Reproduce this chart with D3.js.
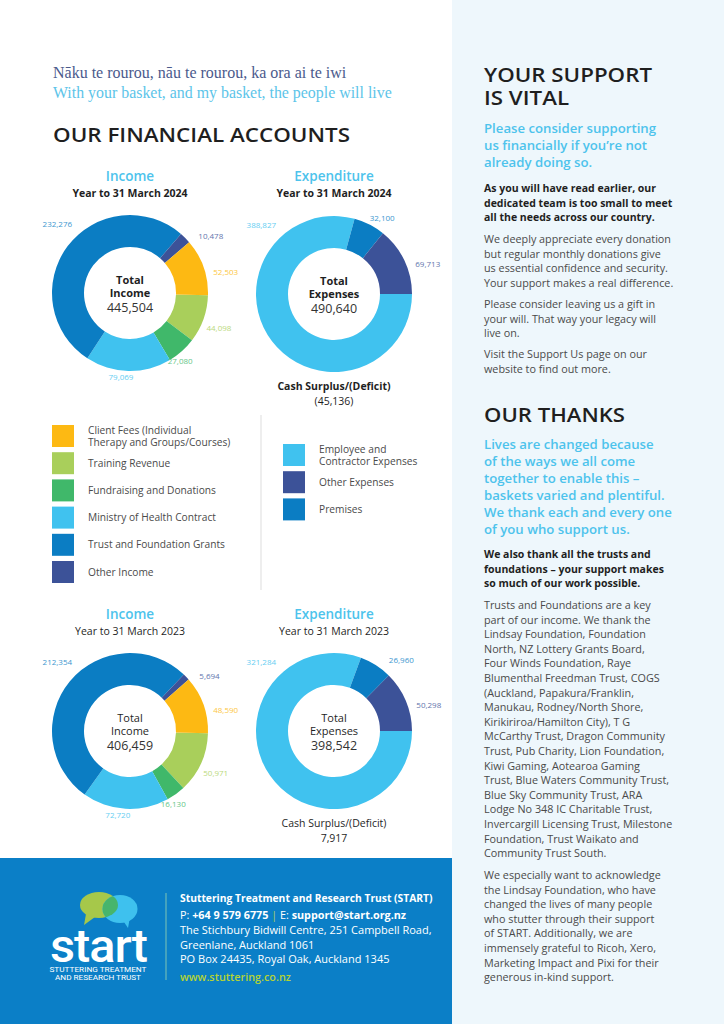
<!DOCTYPE html>
<html>
<head>
<meta charset="utf-8">
<script src="https://cdn.jsdelivr.net/npm/d3@7"></script>
<style>
  body { margin: 0; background: #fff; }
  svg { display: block; font-family: "Open Sans", sans-serif; }
</style>
</head>
<body>
<svg id="page"></svg>
<script>
// ---- data ----
const incomeCategories = ["Client Fees (Individual\nTherapy and Groups/Courses)", "Training Revenue",
  "Fundraising and Donations", "Ministry of Health Contract", "Trust and Foundation Grants", "Other Income"];
const income2024 = [52503, 44098, 27080, 79069, 232276, 10478];
const income2023 = [48590, 50971, 16130, 72720, 212354, 5694];

const expenseCategories = ["Employee and\nContractor Expenses", "Other Expenses", "Premises"];
const expense2024 = [388827, 69713, 32100];
const expense2023 = [321284, 50298, 26960];

// clockwise slice order starting at 3 o'clock
const incomeOrder = [1, 2, 3, 4, 5, 0];
const expenseOrder = [0, 2, 1];

const incomeColors = ["#fdb913", "#a9cf5b", "#40b86a", "#40c2ef", "#0b7dc3", "#3c5298"];
const expenseColors = ["#40c2ef", "#3c5298", "#0b7dc3"];

const W = 724, H = 1024;
const blue = "#4dc3ec", dark = "#1f1f1f", grey = "#4a4a4a";
const fmt = d3.format(",");
const fmtSigned = v => v < 0 ? "(" + fmt(-v) + ")" : fmt(v);

const svg = d3.select("#page").attr("width", W).attr("height", H);

// backgrounds
svg.append("rect").attr("width", W).attr("height", H).attr("fill", "#fff");
svg.append("rect").attr("x", 452).attr("width", W - 452).attr("height", H).attr("fill", "#eef7fc");
svg.append("rect").attr("y", 858).attr("width", 452).attr("height", H - 858).attr("fill", "#0b7fc7");

function lines(g, x, y, lh, arr, opts = {}) {
  const t = g.append("text")
    .attr("x", x).attr("y", y)
    .attr("font-size", opts.size || 10.8)
    .attr("font-weight", opts.weight || 400)
    .attr("fill", opts.fill || grey)
    .attr("text-anchor", opts.anchor || "start")
    .attr("font-family", opts.family || null);
  arr.forEach((s, i) => {
    const ts = t.append("tspan").attr("x", x).attr("y", y + i * lh).text(s);
    if (opts.widths) ts.attr("textLength", opts.widths[i]).attr("lengthAdjust", "spacingAndGlyphs");
  });
  return t;
}

// ---- header ----
lines(svg, 53, 78, 20, ["Nāku te rourou, nāu te rourou, ka ora ai te iwi"],
  { size: 16, fill: "#4b5a8c", family: "Liberation Serif, serif" });
lines(svg, 53, 98, 20, ["With your basket, and my basket, the people will live"],
  { size: 15.9, fill: "#5cc4e9", family: "Liberation Serif, serif" });
lines(svg, 53, 142, 20, ["OUR FINANCIAL ACCOUNTS"], { size: 19.5, weight: 600, fill: dark, widths: [297] });

// ---- donuts ----
const R = 78, r0 = 46;
const arc = d3.arc().innerRadius(r0).outerRadius(R);

function donut(cx, cy, values, cats, colors, order, o) {
  const g = svg.append("g").attr("transform", `translate(${cx},${cy})`);
  const rows = order.map(i => ({ cat: cats[i], value: values[i], color: colors[i] }));
  const start = Math.PI / 2 + (o.rot || 0);
  const pie = d3.pie().value(d => d.value).sort(null).startAngle(start).endAngle(start + 2 * Math.PI);
  const arcs = pie(rows);

  g.selectAll("path.slice").data(arcs).join("path")
    .attr("class", "slice")
    .attr("d", arc)
    .attr("fill", d => d.data.color);

  // value labels just outside the ring
  g.selectAll("text.val").data(arcs).join("text")
    .attr("class", "val")
    .each(function (d) {
      const frac = (d.endAngle - d.startAngle) / (2 * Math.PI);
      const a = frac > 0.5 ? -40 * Math.PI / 180 : (d.startAngle + d.endAngle) / 2 + 5 * Math.PI / 180;
      const s = Math.sin(a), c = -Math.cos(a);
      const rr = R + 6 + 8 * Math.max(0, -c);
      d3.select(this)
        .attr("x", s * rr).attr("y", c * rr)
        .attr("text-anchor", Math.abs(s) < 0.6 ? "middle" : (s > 0 ? "start" : "end"))
        .attr("dominant-baseline", "central");
    })
    .attr("font-size", 8)
    .attr("fill", d => d3.interpolateRgb(d.data.color, "#ffffff")(0.2))
    .text(d => fmt(d.data.value));

  // titles
  g.append("text").attr("y", o.titleY - cy).attr("text-anchor", "middle")
    .attr("font-size", 13.5).attr("font-weight", 600).attr("fill", blue).text(o.title);
  g.append("text").attr("y", o.titleY - cy + 16).attr("text-anchor", "middle")
    .attr("font-size", 10.5).attr("font-weight", o.bold ? 700 : 400).attr("fill", dark).text(o.sub);

  // centre
  const total = d3.sum(values);
  g.append("text").attr("y", -14).attr("text-anchor", "middle").attr("dominant-baseline", "central")
    .attr("font-size", 11).attr("font-weight", o.bold ? 700 : 400).attr("fill", dark).text("Total");
  g.append("text").attr("y", -1).attr("text-anchor", "middle").attr("dominant-baseline", "central")
    .attr("font-size", 11).attr("font-weight", o.bold ? 700 : 400).attr("fill", dark).text(o.centre);
  g.append("text").attr("y", 14).attr("text-anchor", "middle").attr("dominant-baseline", "central")
    .attr("font-size", 12.5).attr("fill", "#333").text(fmt(total));

  if (o.surplus !== undefined) {
    g.append("text").attr("y", R + 14).attr("text-anchor", "middle").attr("dominant-baseline", "central")
      .attr("font-size", 10.5).attr("font-weight", o.bold ? 700 : 400).attr("fill", dark)
      .text("Cash Surplus/(Deficit)");
    g.append("text").attr("y", R + 29).attr("text-anchor", "middle").attr("dominant-baseline", "central")
      .attr("font-size", 10.5).attr("fill", dark).text(fmtSigned(o.surplus));
  }
}

donut(130, 293, income2024, incomeCategories, incomeColors, incomeOrder,
  { title: "Income", sub: "Year to 31 March 2024", titleY: 181, bold: true, centre: "Income", rot: 0.03 });
donut(334, 294, expense2024, expenseCategories, expenseColors, expenseOrder,
  { title: "Expenditure", sub: "Year to 31 March 2024", titleY: 181, bold: true, centre: "Expenses",
    surplus: d3.sum(income2024) - d3.sum(expense2024) });
donut(130, 731, income2023, incomeCategories, incomeColors, incomeOrder,
  { title: "Income", sub: "Year to 31 March 2023", titleY: 619, bold: false, centre: "Income", rot: 0.03 });
donut(334, 731, expense2023, expenseCategories, expenseColors, expenseOrder,
  { title: "Expenditure", sub: "Year to 31 March 2023", titleY: 619, bold: false, centre: "Expenses",
    surplus: d3.sum(income2023) - d3.sum(expense2023) });

// ---- legends ----
function legend(x, y, cats, colors) {
  const step = 27.2, sw = 22;
  const g = svg.append("g").attr("transform", `translate(${x},${y})`);
  const row = g.selectAll("g").data(cats).join("g")
    .attr("transform", (d, i) => `translate(0,${i * step})`);
  row.append("rect").attr("width", sw).attr("height", sw).attr("fill", (d, i) => colors[i]);
  row.append("text").attr("x", 36).attr("font-size", 10.2).attr("fill", grey)
    .each(function (d) {
      const parts = d.split("\n");
      const t = d3.select(this);
      parts.forEach((p, k) => {
        t.append("tspan").attr("x", 36)
          .attr("y", sw / 2 + 3.5 + (k - (parts.length - 1) / 2) * 12)
          .text(p);
      });
    });
}
legend(52, 425, incomeCategories, incomeColors);
legend(283, 444, expenseCategories, expenseColors);
svg.append("line").attr("x1", 261).attr("x2", 261).attr("y1", 415).attr("y2", 590)
  .attr("stroke", "#dddddd").attr("stroke-width", 1);

// ---- right column ----
const rx = 484;
lines(svg, rx, 82, 23, ["YOUR SUPPORT", "IS VITAL"], { size: 19.5, weight: 600, fill: dark, widths: [168, 85] });
lines(svg, rx, 133, 17, ["Please consider supporting", "us financially if you’re not", "already doing so."],
  { size: 13.2, weight: 600, fill: blue });
lines(svg, rx, 192, 14.5, ["As you will have read earlier, our", "dedicated team is too small to meet",
  "all the needs across our country."], { size: 10.5, weight: 700, fill: dark });
lines(svg, rx, 243, 14.5, ["We deeply appreciate every donation", "but regular monthly donations give",
  "us essential confidence and security.", "Your support makes a real difference."]);
lines(svg, rx, 308, 14.5, ["Please consider leaving us a gift in", "your will. That way your legacy will",
  "live on."]);
lines(svg, rx, 358, 14.5, ["Visit the Support Us page on our", "website to find out more."]);

lines(svg, rx, 422, 23, ["OUR THANKS"], { size: 19.5, weight: 600, fill: dark, widths: [141] });
lines(svg, rx, 449, 16.9, ["Lives are changed because", "of the ways we all come", "together to enable this –",
  "baskets varied and plentiful.", "We thank each and every one", "of you who support us."],
  { size: 13.2, weight: 600, fill: blue });
lines(svg, rx, 558, 14.5, ["We also thank all the trusts and", "foundations – your support makes",
  "so much of our work possible."], { size: 10.5, weight: 700, fill: dark });
lines(svg, rx, 609, 14.6, ["Trusts and Foundations are a key", "part of our income. We thank the",
  "Lindsay Foundation, Foundation", "North, NZ Lottery Grants Board,", "Four Winds Foundation, Raye",
  "Blumenthal Freedman Trust, COGS", "(Auckland, Papakura/Franklin,", "Manukau, Rodney/North Shore,",
  "Kirikiriroa/Hamilton City), T G", "McCarthy Trust, Dragon Community", "Trust, Pub Charity, Lion Foundation,",
  "Kiwi Gaming, Aotearoa Gaming", "Trust, Blue Waters Community Trust,", "Blue Sky Community Trust, ARA",
  "Lodge No 348 IC Charitable Trust,", "Invercargill Licensing Trust, Milestone",
  "Foundation, Trust Waikato and", "Community Trust South."]);
lines(svg, rx, 879, 14.6, ["We especially want to acknowledge", "the Lindsay Foundation, who have",
  "changed the lives of many people", "who stutter through their support", "of START. Additionally, we are",
  "immensely grateful to Ricoh, Xero,", "Marketing Impact and Pixi for their", "generous in-kind support."]);

// ---- footer ----
const logo = svg.append("g");
const defs = svg.append("defs");
defs.append("clipPath").attr("id", "blueBubble")
  .append("ellipse").attr("cx", 120).attr("cy", 909).attr("rx", 17.5).attr("ry", 14);
logo.append("path").attr("d", "M86,914 L84,925 L95,917 Z").attr("fill", "#a6c84a");
logo.append("path").attr("d", "M122,919 L128,928 L130,917 Z").attr("fill", "#3ec1ee");
logo.append("ellipse").attr("cx", 99).attr("cy", 905).attr("rx", 19).attr("ry", 13).attr("fill", "#a6c84a");
logo.append("ellipse").attr("cx", 120).attr("cy", 909).attr("rx", 17.5).attr("ry", 14).attr("fill", "#3ec1ee");
logo.append("ellipse").attr("cx", 99).attr("cy", 905).attr("rx", 19).attr("ry", 13)
  .attr("fill", "#47b56c").attr("clip-path", "url(#blueBubble)");
logo.append("text").attr("x", 50).attr("y", 962).attr("font-size", 47).attr("font-weight", 500)
  .attr("fill", "#fff").attr("textLength", 97).attr("lengthAdjust", "spacingAndGlyphs")
  .attr("font-family", "Roboto, sans-serif").attr("letter-spacing", -1).text("start");
logo.append("text").attr("x", 98).attr("y", 972).attr("text-anchor", "middle").attr("font-size", 7.6)
  .attr("fill", "#fff").attr("textLength", 97).attr("lengthAdjust", "spacingAndGlyphs")
  .attr("font-family", "Roboto, sans-serif").text("STUTTERING TREATMENT");
logo.append("text").attr("x", 98).attr("y", 980).attr("text-anchor", "middle").attr("font-size", 7.6)
  .attr("fill", "#fff").attr("textLength", 86).attr("lengthAdjust", "spacingAndGlyphs")
  .attr("font-family", "Roboto, sans-serif").text("AND RESEARCH TRUST");

svg.append("line").attr("x1", 166).attr("x2", 166).attr("y1", 893).attr("y2", 980)
  .attr("stroke", "#7fc6b4").attr("stroke-width", 1);

const fx = 180;
lines(svg, fx, 902, 15, ["Stuttering Treatment and Research Trust (START)"], { size: 10.3, weight: 700, fill: "#fff" });
const ph = svg.append("text").attr("x", fx).attr("y", 919).attr("font-size", 10.8).attr("fill", "#fff");
ph.append("tspan").text("P: ");
ph.append("tspan").attr("font-weight", 700).text("+64 9 579 6775");
ph.append("tspan").attr("fill", "#a9cf5b").text(" | ");
ph.append("tspan").text("E: ");
ph.append("tspan").attr("font-weight", 700).text("support@start.org.nz");
lines(svg, fx, 934, 14.5, ["The Stichbury Bidwill Centre, 251 Campbell Road,", "Greenlane, Auckland 1061",
  "PO Box 24435, Royal Oak, Auckland 1345"], { size: 11, fill: "#fff" });
lines(svg, fx, 981, 15, ["www.stuttering.co.nz"], { size: 10.8, weight: 600, fill: "#b5d334" });
</script>
</body>
</html>
